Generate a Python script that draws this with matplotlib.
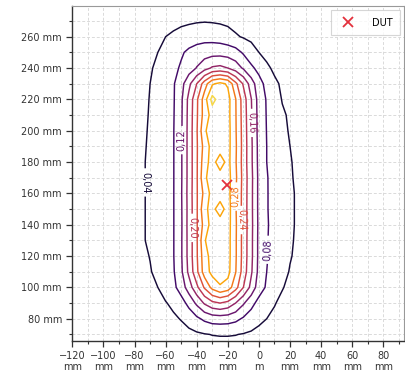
import numpy as np
import matplotlib
matplotlib.use("Agg")
import matplotlib.pyplot as plt
from matplotlib.ticker import EngFormatter, FixedLocator, MultipleLocator

# grid positions (mm) of the field samples
x_mm = [-85, -80, -75, -70, -65, -60, -55, -50, -45, -40, -35, -30, -25,
        -20, -15, -10, -5, 0, 5, 10, 15, 20, 25, 30, 35]
y_mm = [60, 70, 80, 90, 100, 110, 120, 130, 140, 150, 160, 170, 180,
        190, 200, 210, 220, 230, 240, 250, 260, 270, 280]

# field values (x 1/1000), one row per y_mm
field_milli = [
    [6, 7, 8, 9, 11, 13, 15, 17, 19, 21, 23, 24, 25, 25, 24, 22, 20, 18, 16, 14, 12, 10, 9, 8, 7],
    [8, 9, 11, 13, 15, 18, 22, 26, 30, 34, 38, 41, 42, 42, 41, 38, 34, 30, 26, 22, 18, 15, 12, 10, 9],
    [10, 12, 15, 18, 22, 27, 34, 42, 55, 72, 88, 98, 100, 98, 90, 75, 62, 48, 40, 33, 26, 20, 16, 13, 11],
    [15, 18, 22, 26, 32, 38, 48, 64, 92, 128, 165, 190, 200, 188, 160, 125, 92, 68, 52, 42, 32, 25, 20, 17, 14],
    [20, 24, 29, 35, 40, 55, 70, 98, 140, 190, 245, 292, 316, 302, 255, 200, 148, 98, 75, 60, 42, 32, 26, 22, 18],
    [22, 27, 32, 38, 48, 62, 76, 112, 170, 230, 300, 332, 338, 333, 282, 222, 166, 108, 80, 66, 50, 38, 30, 25, 21],
    [24, 29, 34, 41, 53, 64, 78, 115, 175, 235, 305, 335, 340, 335, 285, 225, 170, 110, 82, 69, 55, 42, 34, 28, 23],
    [25, 30, 37, 45, 55, 66, 78, 115, 175, 235, 318, 335, 340, 335, 285, 225, 170, 110, 82, 70, 57, 44, 35, 29, 24],
    [25, 30, 37, 45, 55, 66, 78, 114, 176, 236, 296, 338, 342, 336, 286, 226, 171, 111, 83, 70, 58, 45, 36, 30, 25],
    [25, 30, 37, 45, 55, 66, 78, 115, 175, 235, 312, 332, 300, 338, 284, 224, 170, 110, 82, 70, 58, 45, 36, 30, 25],
    [25, 30, 37, 45, 55, 66, 78, 116, 176, 236, 292, 336, 342, 334, 283, 225, 170, 110, 82, 70, 58, 45, 36, 30, 25],
    [25, 30, 37, 45, 55, 66, 78, 115, 175, 235, 315, 334, 338, 336, 288, 226, 171, 110, 82, 69, 57, 43, 35, 30, 25],
    [25, 30, 37, 45, 55, 66, 78, 115, 175, 235, 305, 335, 300, 333, 284, 224, 168, 108, 80, 67, 54, 42, 34, 28, 23],
    [25, 30, 36, 44, 54, 65, 78, 115, 175, 235, 295, 336, 340, 334, 286, 225, 168, 107, 80, 66, 52, 40, 32, 27, 22],
    [24, 29, 35, 43, 53, 64, 78, 114, 175, 236, 316, 335, 342, 335, 284, 224, 166, 105, 79, 64, 48, 37, 30, 25, 21],
    [24, 28, 34, 42, 52, 63, 77, 113, 174, 234, 298, 335, 340, 333, 283, 222, 165, 104, 78, 61, 45, 35, 28, 24, 20],
    [24, 28, 34, 41, 51, 62, 76, 112, 172, 232, 300, 375, 340, 334, 282, 220, 162, 103, 77, 58, 38, 31, 26, 23, 19],
    [24, 28, 32, 40, 52, 63, 76, 105, 150, 200, 260, 315, 330, 315, 250, 195, 140, 95, 68, 45, 36, 29, 24, 20, 17],
    [22, 26, 31, 37, 46, 57, 70, 85, 100, 122, 145, 165, 170, 160, 140, 115, 88, 68, 45, 35, 30, 25, 21, 18, 15],
    [20, 23, 27, 32, 40, 50, 62, 75, 88, 97, 102, 105, 105, 102, 95, 75, 55, 40, 32, 27, 23, 20, 17, 15, 13],
    [16, 19, 22, 27, 33, 40, 47, 54, 58, 63, 66, 65, 62, 55, 44, 37, 32, 27, 23, 20, 18, 16, 14, 13, 12],
    [12, 14, 17, 21, 24, 26, 28, 32, 35, 37, 38, 37, 35, 32, 28, 25, 23, 21, 19, 17, 15, 13, 12, 11, 10],
    [9, 10, 12, 14, 16, 18, 20, 22, 23, 24, 24, 23, 22, 21, 19, 17, 15, 14, 12, 11, 10, 9, 8, 8, 7],
]

levels = [0.04, 0.08, 0.12, 0.16, 0.20, 0.24, 0.28, 0.32, 0.36]

# where the contour labels sit (mm), each right on its line
label_pos_mm = [
    (-73.0, 167.0),   # 0,04
    (5.8, 124.0),     # 0,08
    (-49.6, 194.0),   # 0,12
    (-4.2, 205.0),    # 0,16
    (-42.9, 138.0),   # 0,20
    (-11.3, 143.0),   # 0,24
    (-14.6, 158.0),   # 0,28
]

dut_x_mm = -20.8
dut_y_mm = 165.4

x_ticks_mm = [-120, -100, -80, -60, -40, -20, 0, 20, 40, 60, 80]
y_ticks_mm = [80, 100, 120, 140, 160, 180, 200, 220, 240, 260]

X, Y = np.meshgrid(np.array(x_mm) / 1000, np.array(y_mm) / 1000)
Z = np.array(field_milli) / 1000

fig = plt.figure(figsize=(4.06, 3.74), dpi=100)
ax = fig.add_axes([71.7 / 406, 1 - 341 / 374, 332.8 / 406, 335 / 374])

cs = ax.contour(X, Y, Z, levels=levels, cmap='inferno', vmin=0.0, vmax=0.40,
                linewidths=1.05)

fmt = lambda v: f"{v:.2f}".replace('.', ',')
ax.clabel(cs, manual=[(px / 1000, py / 1000) for px, py in label_pos_mm],
          inline=True, fmt=fmt, fontsize=7, inline_spacing=3)

ax.plot(dut_x_mm / 1000, dut_y_mm / 1000, 'x', color='#e3303c', ms=7, mew=1.3,
        label='DUT', linestyle='none')

ax.set_xlim(-0.1204, 0.0936)
ax.set_ylim(0.0658, 0.2796)

ax.xaxis.set_major_locator(FixedLocator(np.array(x_ticks_mm) / 1000))
ax.yaxis.set_major_locator(FixedLocator(np.array(y_ticks_mm) / 1000))
ax.xaxis.set_minor_locator(MultipleLocator(0.01))
ax.yaxis.set_minor_locator(MultipleLocator(0.01))
ax.xaxis.set_major_formatter(EngFormatter(unit='m', sep='\n'))
ax.yaxis.set_major_formatter(EngFormatter(unit='m'))

ax.grid(which='both', color='#dadada', linestyle=(0, (3, 2)), linewidth=0.7)
ax.set_axisbelow(True)

ax.tick_params(which='major', length=4.5, width=0.9, color='#333333',
               labelsize=7, labelcolor='#333333', pad=2.5)
ax.tick_params(which='minor', length=2.5, width=0.8, color='#333333')
for s in ('left', 'bottom'):
    ax.spines[s].set_color('#333333')
    ax.spines[s].set_linewidth(1.0)
for s in ('top', 'right'):
    ax.spines[s].set_color('#999999')
    ax.spines[s].set_linewidth(0.8)

leg = ax.legend(loc='upper right', fontsize=7, frameon=True, fancybox=False,
                edgecolor='#cccccc', borderpad=0.75, handletextpad=1.5,
                borderaxespad=0.45)
leg.get_frame().set_linewidth(0.8)

fig.savefig('out.png', dpi=100)
